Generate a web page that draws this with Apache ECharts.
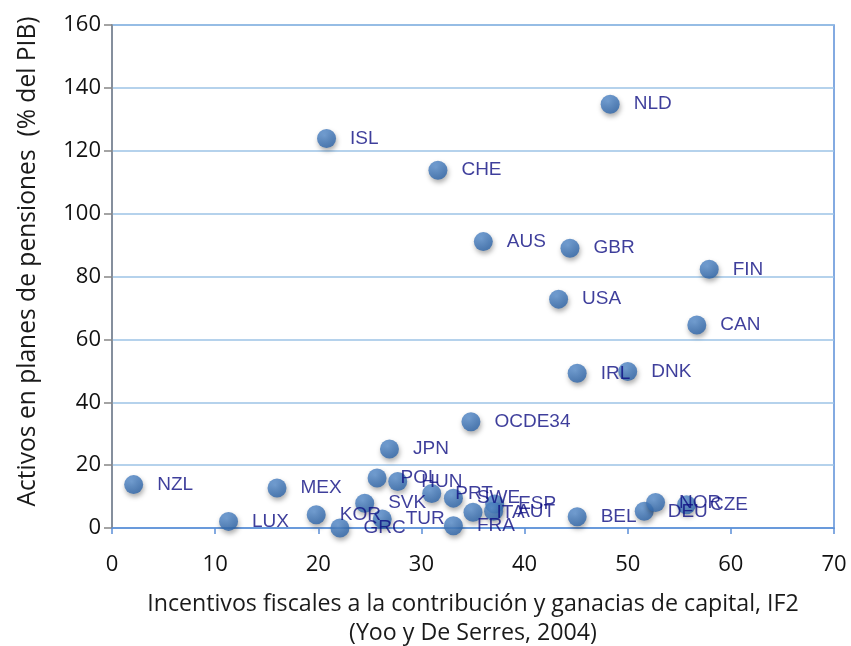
<!DOCTYPE html>
<html>
<head>
<meta charset="utf-8">
<script src="https://cdn.jsdelivr.net/npm/echarts@6/dist/echarts.min.js"></script>
<style>html,body{margin:0;padding:0;background:#fff}#c{width:851px;height:646px}</style>
</head>
<body>
<div id="c"></div>
<script>
const countries = ["NLD","ISL","CHE","AUS","GBR","FIN","USA","CAN","IRL","DNK","OCDE34","JPN","NZL","MEX","POL","HUN","PRT","SWE","ESP","AUT","ITA","SVK","KOR","LUX","TUR","GRC","FRA","BEL","DEU","NOR","CZE"];
const xValues = [48.3,20.8,31.6,36.0,44.4,57.9,43.3,56.7,45.1,50.0,34.8,26.9,2.1,16.0,25.7,27.7,31.0,33.1,37.1,37.0,35.0,24.5,19.8,11.3,26.2,22.1,33.1,45.1,51.6,52.7,55.7];
const yValues = [134.8,123.9,113.8,91.1,89.0,82.3,72.8,64.6,49.2,49.8,33.8,25.1,13.8,12.7,15.9,14.8,11.0,9.5,7.6,5.3,5.0,7.9,4.2,2.1,2.9,0.0,0.7,3.6,5.3,8.1,7.4];
const xTicks = {min:0, max:70, interval:10};
const yTicks = {min:0, max:160, interval:20};
const xTitle = "Incentivos fiscales a la contribución y ganacias de capital, IF2\n(Yoo y De Serres, 2004)";
const yTitle = "Activos en planes de pensiones  (% del PIB)";

const data = countries.map((c,i)=>({name:c, value:[xValues[i], yValues[i]]}));
const chart = echarts.init(document.getElementById('c'), null, {renderer:'canvas'});
const axisFont = "'Open Sans', 'Liberation Sans', sans-serif";
chart.setOption({
  animation:false,
  backgroundColor:'#ffffff',
  grid:{left:112, right:17, top:25, bottom:118, containLabel:false, outerBoundsMode:'none', show:true, borderColor:'#5b8fd8', borderWidth:1.5, backgroundColor:'transparent'},
  xAxis:{
    type:'value', min:xTicks.min, max:xTicks.max, interval:xTicks.interval,
    name:xTitle, nameLocation:'middle', nameGap:62,
    nameTextStyle:{fontFamily:axisFont, fontSize:23.2, color:'#1a1a1a', lineHeight:29},
    axisLine:{show:true, onZero:false, lineStyle:{color:'#5b8fd8', width:1.5}},
    axisTick:{show:true, length:6, lineStyle:{color:'#5b8fd8', width:1.5}},
    axisLabel:{fontFamily:axisFont, fontSize:22, color:'#111', margin:26},
    splitLine:{show:false}
  },
  yAxis:{
    type:'value', min:yTicks.min, max:yTicks.max, interval:yTicks.interval,
    name:yTitle, nameLocation:'middle', nameGap:72, nameRotate:90,
    nameTextStyle:{fontFamily:axisFont, fontSize:24.6, color:'#1a1a1a', padding:[0,0,0,30]},
    axisLine:{show:true, lineStyle:{color:'#868686', width:1.5}},
    axisTick:{show:true, length:8, lineStyle:{color:'#868686', width:1.5}},
    axisLabel:{fontFamily:axisFont, fontSize:22, color:'#111', margin:11},
    splitLine:{show:true, lineStyle:{color:'#9dc3e6', width:1.5}}
  },
  series:[{
    type:'scatter',
    data:data,
    symbol:'circle',
    symbolSize:19,
    itemStyle:{
      color:new echarts.graphic.RadialGradient(0.4,0.35,0.7,[{offset:0,color:'#5d93d2'},{offset:1,color:'#2b63a8'}]),
      shadowBlur:5, shadowOffsetY:3, shadowOffsetX:1, shadowColor:'rgba(0,0,0,0.4)'
    },
    label:{
      show:true, position:'right', distance:14,
      formatter:p=>p.name,
      fontFamily:"'Liberation Sans Narrow', 'Liberation Sans', sans-serif",
      fontSize:19, color:'#0e0e82'
    },
    labelLayout:{hideOverlap:false}
  }]
});
</script>
</body>
</html>
